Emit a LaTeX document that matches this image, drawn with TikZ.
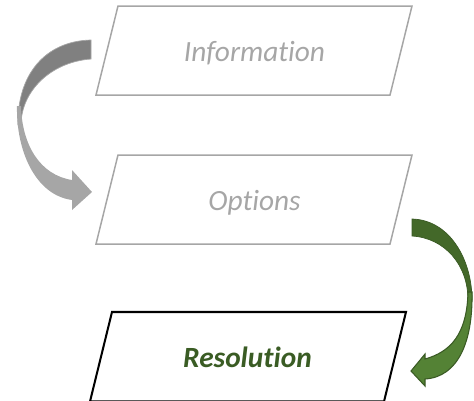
\documentclass[tikz,border=0pt]{standalone}
\usepackage{fontspec}
\setmainfont{Carlito}[Ligatures=NoCommon]
\definecolor{paleGray}{HTML}{A6A6A6}
\definecolor{backGray}{HTML}{808080}
\definecolor{leafGreen}{HTML}{548235}
\definecolor{backGreen}{HTML}{436829}
\definecolor{edgeGreen}{HTML}{3A5A24}
\definecolor{textGreen}{HTML}{3A5C24}
\tikzset{
  dimbox/.style={draw=paleGray, line width=0.85pt, line join=miter},
  livebox/.style={draw=black, line width=1.15pt, line join=miter},
  label/.style={anchor=base, inner sep=0pt, font=\fontsize{16.7}{20}\selectfont\itshape},
}
\begin{document}
\begin{tikzpicture}[x=0.02cm, y=-0.02cm]
\useasboundingbox (0,0) rectangle (474,400);

% parallelogram steps
\draw[dimbox]  (96,95)    -- (118,6)   -- (412,6)   -- (390,95)    -- cycle;
\draw[dimbox]  (96,244)   -- (118,155) -- (412,155) -- (390,244)   -- cycle;
\draw[livebox] (90,401.5) -- (112,312) -- (406,312) -- (384,401.5) -- cycle;

\node[label, text=paleGray] (info)  at (254.5,61.5) {Information};
\node[label, text=paleGray] (opts)  at (254.5,210)  {Options};
\node[label, text=textGreen, font=\fontsize{16.7}{20}\selectfont\bfseries\itshape] (resol) at (247.5,367) {Resolution};

% grey curved arrow: back band, then front face with head
\draw[fill=backGray, draw=paleGray, line width=0.4pt]
  (91,40) .. controls (45,41) and (17,75) .. (18,125) -- (21,125)
  .. controls (21,92) and (50,62) .. (91,59) -- cycle;
\fill[paleGray]
  (17,106) .. controls (16,150) and (35,195) .. (72,200)
  -- (72,210) -- (92,192) -- (72,170) -- (72,180)
  .. controls (40,175) and (22,145) .. (21,106) -- cycle;

% green curved arrow: back band, then front face with head
\draw[fill=backGreen, draw=edgeGreen, line width=0.4pt]
  (412,219) .. controls (450,220) and (472,260) .. (472,300) -- (468,300)
  .. controls (468,265) and (445,238) .. (412,236) -- cycle;
\draw[fill=leafGreen, draw=edgeGreen, line width=0.6pt, line join=miter]
  (472,292) .. controls (473,342) and (458,377) .. (425,379)
  -- (425,386) -- (411,371) -- (425,354) -- (425,359)
  .. controls (450,352) and (467,335) .. (468,292) -- cycle;
\end{tikzpicture}
\end{document}
